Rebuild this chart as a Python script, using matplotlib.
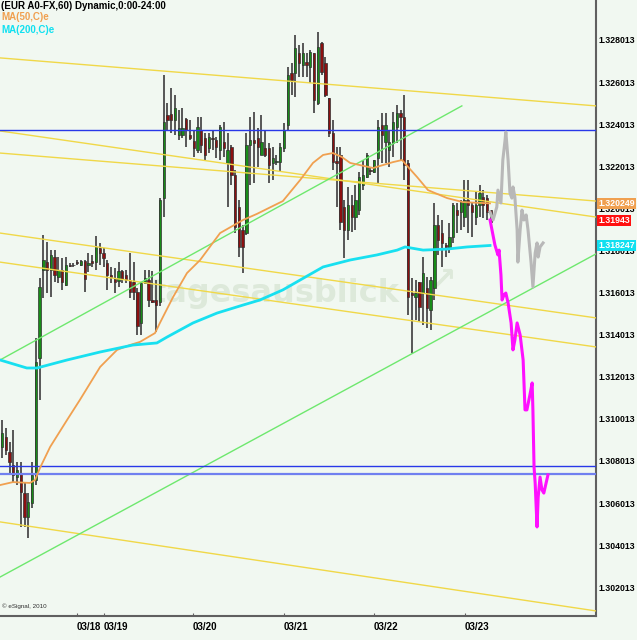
import matplotlib
matplotlib.use("Agg")
import matplotlib.pyplot as plt
import matplotlib.transforms as mtransforms

# hourly candles, EUR A0-FX (index = bar number from the left edge)
opens = [1.30868, 1.30915, 1.30844, 1.30782, 1.30725, 1.30740, 1.30649, 1.30535, 1.30602, 1.30711,
         1.31291, 1.31708, 1.31746, 1.31708, 1.31770, 1.31675, 1.31708, 1.31637, 1.31732, 1.31732,
         1.31746, 1.31732, 1.31751, 1.31732, 1.31751, 1.31746, 1.31813, 1.31789, 1.31742, 1.31685,
         1.31666, 1.31656, 1.31704, 1.31685, 1.31661, 1.31652, 1.31604, 1.31457, 1.31647, 1.31661,
         1.31566, 1.31566, 1.31556, 1.32050, 1.32445, 1.32450, 1.32421, 1.32350, 1.32350, 1.32426,
         1.32350, 1.32321, 1.32278, 1.32374, 1.32335, 1.32288, 1.32335, 1.32326, 1.32278, 1.32316,
         1.32217, 1.32293, 1.32160, 1.32008, 1.31899, 1.31884, 1.32302, 1.32326, 1.32335, 1.32255,
         1.32288, 1.32288, 1.32217, 1.32221, 1.32221, 1.32288, 1.32397, 1.32644, 1.32644, 1.32739,
         1.32682, 1.32696, 1.32673, 1.32739, 1.32502, 1.32787, 1.32692, 1.32526, 1.32359, 1.32226,
         1.32255, 1.32008, 1.31899, 1.32017, 1.31960, 1.31993, 1.32112, 1.32150, 1.32183, 1.32174,
         1.32241, 1.32397, 1.32316, 1.32278, 1.32312, 1.32388, 1.32454, 1.32435, 1.32217, 1.31599,
         1.31580, 1.31652, 1.31599, 1.31623, 1.31518, 1.31623, 1.31922, 1.31884, 1.31827, 1.31818,
         1.31865, 1.31993, 1.31984, 1.31960, 1.32041, 1.32017, 1.31960, 1.32017, 1.32055, 1.32050,
         1.31993]
highs = [1.30996, 1.30958, 1.30891, 1.30949, 1.30796, 1.30796, 1.30697, 1.30649, 1.30796, 1.31386,
         1.31671, 1.31875, 1.31842, 1.31803, 1.31803, 1.31770, 1.31766, 1.31770, 1.31742, 1.31742,
         1.31756, 1.31756, 1.31756, 1.31789, 1.31780, 1.31870, 1.31837, 1.31813, 1.31756, 1.31723,
         1.31718, 1.31746, 1.31708, 1.31708, 1.31789, 1.31746, 1.31623, 1.31652, 1.31708, 1.31708,
         1.31704, 1.31661, 1.32050, 1.32635, 1.32502, 1.32573, 1.32540, 1.32468, 1.32478, 1.32431,
         1.32421, 1.32374, 1.32435, 1.32435, 1.32359, 1.32359, 1.32374, 1.32340, 1.32397, 1.32412,
         1.32359, 1.32302, 1.32183, 1.32041, 1.31922, 1.32359, 1.32435, 1.32459, 1.32383, 1.32445,
         1.32374, 1.32312, 1.32293, 1.32255, 1.32312, 1.32407, 1.32673, 1.32692, 1.32825, 1.32777,
         1.32787, 1.32739, 1.32753, 1.32739, 1.32839, 1.32791, 1.32720, 1.32526, 1.32421, 1.32293,
         1.32293, 1.32041, 1.32103, 1.32065, 1.32112, 1.32174, 1.32231, 1.32264, 1.32193, 1.32231,
         1.32421, 1.32454, 1.32454, 1.32374, 1.32459, 1.32492, 1.32468, 1.32540, 1.32231, 1.31671,
         1.31661, 1.31652, 1.31770, 1.31675, 1.31675, 1.32027, 1.31970, 1.31946, 1.31837, 1.31932,
         1.32027, 1.32027, 1.32041, 1.32136, 1.32136, 1.32031, 1.32079, 1.32112, 1.32088, 1.32065,
         1.31993]
lows = [1.30816, 1.30830, 1.30744, 1.30701, 1.30687, 1.30488, 1.30488, 1.30436, 1.30578, 1.30687,
        1.31091, 1.31576, 1.31599, 1.31580, 1.31652, 1.31647, 1.31614, 1.31633, 1.31723, 1.31723,
        1.31732, 1.31727, 1.31604, 1.31699, 1.31723, 1.31708, 1.31732, 1.31723, 1.31614, 1.31647,
        1.31599, 1.31628, 1.31647, 1.31647, 1.31576, 1.31566, 1.31400, 1.31400, 1.31647, 1.31533,
        1.31552, 1.31414, 1.31537, 1.31960, 1.32374, 1.32359, 1.32350, 1.32326, 1.32335, 1.32293,
        1.32326, 1.32245, 1.32264, 1.32264, 1.32231, 1.32264, 1.32278, 1.32241, 1.32231, 1.32245,
        1.32008, 1.32112, 1.31884, 1.31770, 1.31694, 1.31875, 1.32112, 1.32122, 1.32198, 1.32255,
        1.32245, 1.32122, 1.32136, 1.32207, 1.32174, 1.32269, 1.32374, 1.32540, 1.32530, 1.32625,
        1.32625, 1.32625, 1.32597, 1.32454, 1.32492, 1.32635, 1.32530, 1.32340, 1.32183, 1.32008,
        1.31899, 1.31766, 1.31851, 1.31889, 1.31899, 1.31970, 1.32088, 1.32146, 1.32160, 1.32169,
        1.32122, 1.32217, 1.32217, 1.32198, 1.32245, 1.32312, 1.32231, 1.32136, 1.31495, 1.31314,
        1.31471, 1.31461, 1.31447, 1.31433, 1.31423, 1.31566, 1.31780, 1.31723, 1.31770, 1.31789,
        1.31837, 1.31884, 1.31899, 1.31913, 1.31884, 1.31865, 1.31922, 1.31960, 1.31956, 1.31946,
        1.31922]
closes = [1.30934, 1.30853, 1.30796, 1.30735, 1.30758, 1.30654, 1.30535, 1.30607, 1.30735, 1.31272,
          1.31628, 1.31756, 1.31708, 1.31780, 1.31685, 1.31708, 1.31652, 1.31732, 1.31727, 1.31730,
          1.31744, 1.31751, 1.31666, 1.31742, 1.31742, 1.31818, 1.31789, 1.31766, 1.31685, 1.31675,
          1.31652, 1.31704, 1.31666, 1.31661, 1.31604, 1.31604, 1.31442, 1.31647, 1.31671, 1.31566,
          1.31556, 1.31542, 1.32041, 1.32412, 1.32421, 1.32421, 1.32478, 1.32383, 1.32383, 1.32374,
          1.32335, 1.32288, 1.32388, 1.32302, 1.32255, 1.32340, 1.32333, 1.32293, 1.32388, 1.32288,
          1.32278, 1.32160, 1.31913, 1.31818, 1.31818, 1.32302, 1.32326, 1.32312, 1.32293, 1.32316,
          1.32255, 1.32207, 1.32241, 1.32226, 1.32293, 1.32374, 1.32635, 1.32611, 1.32763, 1.32692,
          1.32739, 1.32682, 1.32744, 1.32516, 1.32768, 1.32649, 1.32540, 1.32359, 1.32221, 1.32217,
          1.31937, 1.31899, 1.32017, 1.31960, 1.32041, 1.32150, 1.32160, 1.32255, 1.32181, 1.32231,
          1.32388, 1.32350, 1.32397, 1.32316, 1.32412, 1.32454, 1.32435, 1.32207, 1.31580, 1.31590,
          1.31599, 1.31533, 1.31694, 1.31528, 1.31661, 1.31922, 1.31851, 1.31837, 1.31818, 1.31865,
          1.32017, 1.31970, 1.32031, 1.32041, 1.32017, 1.31984, 1.32017, 1.32074, 1.32017, 1.31984,
          1.31937]

# moving averages (bar position, value)
ma50_x = [-0.5, 2.9, 7.4, 8.8, 10.1, 12.8, 17.3, 20.7, 26.1, 30.6, 34.0, 36.7, 40.7, 42.0, 45.5,
          49.2, 52.7, 58.0, 64.1, 67.8, 74.7, 79.3, 82.7, 85.4, 88.0, 90.4, 92.6, 98.7, 104.0,
          106.4, 108.0, 110.4, 113.3, 118.4, 122.6, 129.8]
ma50_y = [1.30687, 1.30701, 1.30697, 1.30711, 1.30768, 1.30868, 1.30996, 1.31091, 1.31248, 1.31329,
          1.31352, 1.31367, 1.31409, 1.31457, 1.31580, 1.31694, 1.31756, 1.31884, 1.31946, 1.31975,
          1.32036, 1.32136, 1.32217, 1.32255, 1.32264, 1.32245, 1.32217, 1.32193, 1.32221, 1.32231,
          1.32198, 1.32150, 1.32088, 1.32050, 1.32031, 1.32025]
ma200_x = [-0.5, 6.6, 9.3, 17.3, 26.1, 34.8, 41.2, 43.9, 50.8, 57.2, 64.1, 68.6, 74.7, 79.3, 85.4,
           92.6, 99.7, 105.1, 107.2, 112.0, 118.4, 123.7, 129.8]
ma200_y = [1.31281, 1.31243, 1.31243, 1.31281, 1.31319, 1.31352, 1.31362, 1.31390, 1.31457, 1.31504,
           1.31542, 1.31566, 1.31614, 1.31661, 1.31723, 1.31756, 1.31780, 1.31803, 1.31818, 1.31803,
           1.31808, 1.31818, 1.31825]

# projected paths
proj_x = [129.8, 131.1, 131.9, 132.2, 132.7, 133.0, 133.5, 134.0, 134.6, 135.4, 135.9, 136.4, 137.0,
          137.8, 138.6, 139.1, 139.6, 140.4, 141.0, 141.2, 141.5, 141.8, 142.3, 142.6, 143.1, 143.6,
          144.1, 145.2]
proj_y = [1.31946, 1.31827, 1.31780, 1.31803, 1.31685, 1.31566, 1.31590, 1.31599, 1.31552, 1.31457,
          1.31329, 1.31376, 1.31457, 1.31400, 1.31281, 1.31044, 1.31044, 1.31115, 1.31172, 1.31044,
          1.30773, 1.30697, 1.30488, 1.30630, 1.30725, 1.30664, 1.30649, 1.30735]
alt_x = [129.8, 130.6, 131.6, 131.9, 132.7, 133.2, 133.8, 134.0, 134.6, 135.1, 135.6, 135.9, 136.4,
         137.0, 137.2, 137.8, 138.3, 138.8, 139.4, 139.9, 140.7, 141.2, 141.8, 142.3, 142.6, 143.1,
         143.9]
alt_y = [1.31984, 1.31946, 1.32008, 1.32088, 1.32027, 1.32231, 1.32326, 1.32364, 1.32231, 1.32074,
         1.32050, 1.32103, 1.32055, 1.31899, 1.31746, 1.31899, 1.31993, 1.31946, 1.31970, 1.31899,
         1.31746, 1.31628, 1.31789, 1.31837, 1.31770, 1.31818, 1.31837]

# drawn lines (x0, y0, x1, y1)
yellow_lines = [(-0.53, 1.32716, 157.98, 1.32488),
                (-0.53, 1.32369, 157.98, 1.31960),
                (-0.53, 1.32264, 157.98, 1.32036),
                (-0.53, 1.31884, 157.98, 1.31481),
                (-0.53, 1.31746, 157.98, 1.31343),
                (-0.53, 1.30512, 157.98, 1.30089)]
green_lines = [(-0.53, 1.31281, 122.3, 1.32488),
               (-0.53, 1.30250, 157.98, 1.31785)]
blue_levels = [1.32374, 1.30777]
blue_level_soft = 1.30740

date_pos = [19.9, 27.1, 50.8, 75.0, 98.9, 123.1]
date_labels = ["03/18", "03/19", "03/20", "03/21", "03/22", "03/23"]
price_ticks = [1.302013, 1.304013, 1.306013, 1.308013, 1.310013, 1.312013, 1.314013,
               1.316013, 1.318013, 1.320013, 1.322013, 1.324013, 1.326013, 1.328013]
tags = [(1.320249, "1.320249", "#f0a050"), (1.31943, "1.31943", "#ff1010"),
        (1.318247, "1.318247", "#10e0f0")]

BG = "#f1f8f1"
FONT = "Liberation Sans"

fig = plt.figure(figsize=(6.37, 6.40), dpi=100, facecolor=BG)
ax = fig.add_axes([0, 24 / 640, 596 / 637, 616 / 640], facecolor=BG)
ax.set_xlim(-0.53, 157.98)
ax.set_ylim(1.30065, 1.32991)

# watermark
ax.text(0.462, 0.523, "tagesausblick", transform=ax.transAxes, ha="center", va="center",
        fontsize=23, fontweight="bold", color="#dde9da", zorder=0.5)
ax.text(0.745, 0.545, "\u2197", transform=ax.transAxes, ha="center", va="center",
        fontsize=22, fontweight="bold", color="#dde9da", zorder=0.5)

# candles
idx = list(range(len(closes)))
ax.vlines(idx, lows, highs, color="#4a4a4a", linewidth=1.3, zorder=2)
body_bottom = [min(o, c) for o, c in zip(opens, closes)]
body_height = [abs(c - o) for o, c in zip(opens, closes)]
body_color = ["#188c18" if c >= o else "#8c1010" for o, c in zip(opens, closes)]
ax.bar(idx, body_height, bottom=body_bottom, width=0.62, color=body_color,
       edgecolor="#303030", linewidth=0.5, zorder=2.5)

# trend lines and levels
for x0, y0, x1, y1 in yellow_lines:
    ax.plot([x0, x1], [y0, y1], color="#f0d848", linewidth=1.0, zorder=3)
for x0, y0, x1, y1 in green_lines:
    ax.plot([x0, x1], [y0, y1], color="#6ee86e", linewidth=1.0, zorder=3)
for lvl in blue_levels:
    ax.axhline(lvl, color="#2838e8", linewidth=1.0, zorder=3)
ax.axhline(blue_level_soft, color="#7080f0", linewidth=1.6, zorder=3)

# moving averages
ax.plot(ma50_x, ma50_y, color="#f0a050", linewidth=1.3, zorder=4)
ax.plot(ma200_x, ma200_y, color="#18e0f0", linewidth=2.0, zorder=4)

# projections
ax.plot(alt_x, alt_y, color="#b8b8b8", linewidth=2.2, zorder=5)
ax.plot(proj_x, proj_y, color="#ff10ff", linewidth=2.2, zorder=5)

# axes styling
for side in ["left", "top"]:
    ax.spines[side].set_visible(False)
for side in ["right", "bottom"]:
    ax.spines[side].set_color("#606060")
    ax.spines[side].set_linewidth(1.5)

ax.yaxis.tick_right()
ax.set_yticks(price_ticks)
ax.set_yticklabels(["%.6f" % t for t in price_ticks], fontsize=6.3, fontweight="bold",
                   family=FONT)
ax.tick_params(axis="y", length=0, pad=1.5)

ax.set_xticks(date_pos)
ax.set_xticklabels(date_labels, fontsize=7, fontweight="bold", family=FONT, ha="left")
ax.tick_params(axis="x", direction="in", length=2, color="#606060", pad=4)

# price tags on the right axis
trans = mtransforms.blended_transform_factory(ax.transAxes, ax.transData)
for val, txt, col in tags:
    ax.text(1.004, val, txt, transform=trans, ha="left", va="center", fontsize=6.3,
            fontweight="bold", family=FONT, color="white", zorder=10, clip_on=False,
            bbox=dict(boxstyle="square,pad=0.12", facecolor=col, edgecolor="none"))

# header and legend
fig.text(0.002, 0.991, "(EUR A0-FX,60) Dynamic,0:00-24:00", ha="left", va="center",
         fontsize=7, fontweight="bold", family=FONT, color="black")
fig.text(0.002, 0.973, "MA(50,C)e", ha="left", va="center", fontsize=7, fontweight="bold",
         family=FONT, color="#f0a050")
fig.text(0.002, 0.953, "MA(200,C)e", ha="left", va="center", fontsize=7, fontweight="bold",
         family=FONT, color="#10e0f0")
fig.text(0.003, 0.053, "\u00a9 eSignal, 2010", ha="left", va="center", fontsize=4.5,
         family=FONT, color="#303030")

fig.savefig("out.png", dpi=100, facecolor=BG)
